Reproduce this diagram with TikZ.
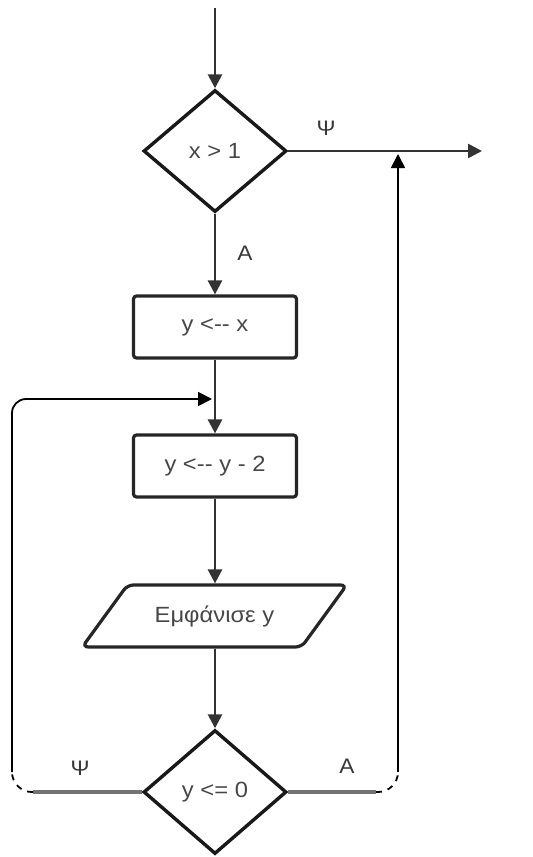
\documentclass[tikz,border=0pt]{standalone}
\usepackage{fontspec}
\setmainfont[FakeStretch=1.08]{Liberation Sans}
\usetikzlibrary{shapes.geometric,arrows.meta}
\begin{document}
\begin{tikzpicture}[x=0.5pt,y=-0.5pt,
  font=\fontsize{11}{13}\selectfont,
  tip/.tip={Triangle[length=7pt,width=7pt]},
  decision/.style={diamond, draw=black!90, line width=1.7pt, fill=white, text=black!72,
    inner sep=0pt, minimum width=71.5pt, minimum height=61pt},
  process/.style={rectangle, draw=black!85, line width=1.6pt, rounded corners=1.5pt,
    fill=white, text=black!72, minimum width=81.5pt, minimum height=31pt},
  io/.style={trapezium, trapezium left angle=45, trapezium right angle=135,
    trapezium stretches=true, draw=black!85, line width=1.6pt, rounded corners=3pt,
    fill=white, text=black!72, minimum width=132.5pt, minimum height=31pt},
  conn/.style={draw=black!80, line width=1.3pt, -tip},
  loopline/.style={draw=black, line width=0.9pt},
  grayline/.style={draw=black!55, line width=2pt},
  lbl/.style={text=black!78, font=\fontsize{10.5}{12}\selectfont, inner sep=0pt}]
\useasboundingbox[fill=white] (0,0) rectangle (533,857);

% nodes
\node[decision] (d1) at (215,151) {x > 1};
\node[process] (b1) at (215,327) {y <-{}- x};
\node[process] (b2) at (215,466) {y <-{}- y - 2};
\node[io] (p) at (214.5,616) {Εμφάνισε y};
\node[decision, minimum height=62pt] (d2) at (215,792) {y <= 0};

% free ends and corners
\coordinate (start) at (215,8);
\coordinate (exit) at (482,151);
\coordinate (loopin) at (212,399);
\coordinate (retup) at (398,154);
\coordinate (lg) at (33,792);
\coordinate (lv) at (12,772);
\coordinate (rg) at (376,792);
\coordinate (rv) at (398,772);

% connectors
\draw[conn] (start) -- (d1.north);
\draw[conn] (d1.east) -- (exit);
\draw[conn] (d1.south) -- (b1.north);
\draw[conn] (b1.south) -- (b2.north);
\draw[conn] (b2.south) -- (b2.south |- p.north);
\draw[conn] (p.south -| d2.north) -- (d2.north);

% loop back (left)
\draw[grayline] (d2.west) -- (lg);
\draw[loopline, dashed, rounded corners=10pt] (lg) -| (lv);
\draw[loopline, rounded corners=7pt, -tip] (lv) |- (loopin);

% exit (right)
\draw[grayline] (d2.east) -- (rg);
\draw[loopline, dashed, rounded corners=10pt] (rg) -| (rv);
\draw[loopline, -tip] (rv) -- (retup);

% labels
\node[lbl] (psi1) at (326,128) {Ψ};
\node[lbl] (a1) at (245,253) {A};
\node[lbl] (psi2) at (80,768) {Ψ};
\node[lbl] (a2) at (347,766) {A};
\end{tikzpicture}
\end{document}
